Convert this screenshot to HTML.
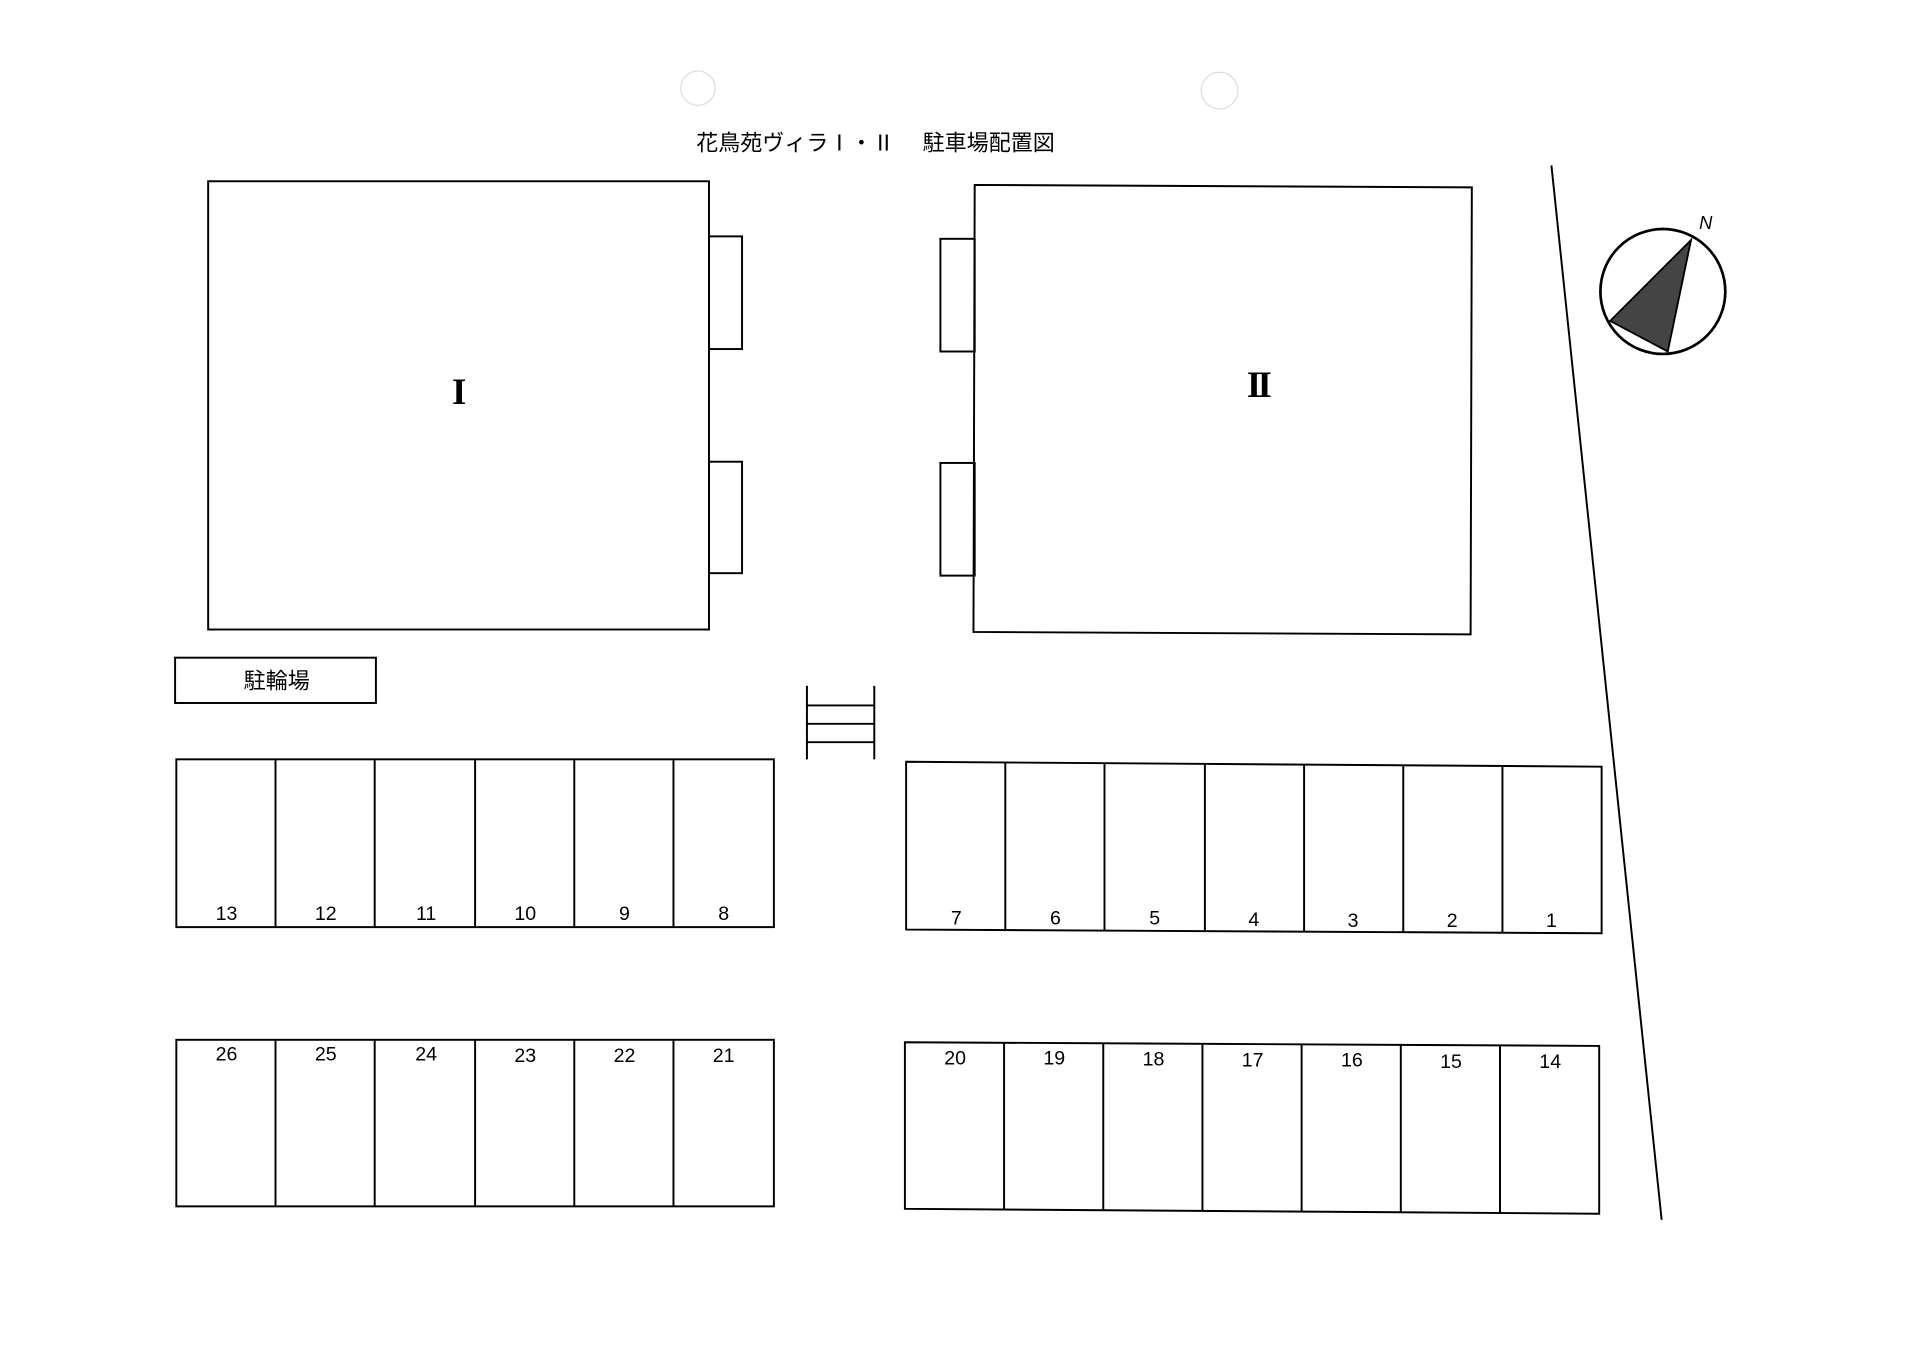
<!DOCTYPE html>
<html><head><meta charset="utf-8"><style>html,body{margin:0;padding:0;background:#fff}svg{display:block}</style></head>
<body>
<svg width="1920" height="1357" viewBox="0 0 1568 1108" preserveAspectRatio="none" xmlns="http://www.w3.org/2000/svg" font-family="'Liberation Sans','Noto Sans CJK JP',sans-serif">
<g fill="none" stroke="#000" stroke-width="1.6">
<circle cx="570" cy="72" r="14" stroke="#ddd" stroke-width="1"/>
<circle cx="996" cy="74" r="15" stroke="#ddd" stroke-width="1"/>
<rect x="170" y="148" width="409" height="366"/>
<rect x="579" y="193" width="27" height="92"/>
<rect x="579" y="377" width="27" height="91"/>
<polygon points="796,151 1202,153 1201,518 795,516"/>
<rect x="768" y="195" width="28" height="92"/>
<rect x="768" y="378" width="28" height="92"/>
<line x1="1267" y1="135" x2="1357" y2="996"/>
<circle cx="1358" cy="238" r="51" stroke-width="2.2"/>
<rect x="143" y="537" width="164" height="37"/>
<line x1="659" y1="560" x2="659" y2="620"/>
<line x1="714" y1="560" x2="714" y2="620"/>
<line x1="659" y1="576" x2="714" y2="576"/>
<line x1="659" y1="591" x2="714" y2="591"/>
<line x1="659" y1="606" x2="714" y2="606"/>
<rect x="144" y="620" width="488" height="137"/>
<path d="M225,620V757M306,620V757M388,620V757M469,620V757M550,620V757"/>
<polygon points="740,622 1308,626 1308,762 740,759"/>
<path d="M821,622V759M902,623V760M984,623V760M1065,624V761M1146,625V761M1227,625V762"/>
<rect x="144" y="849" width="488" height="136"/>
<path d="M225,849V985M306,849V985M388,849V985M469,849V985M550,849V985"/>
<polygon points="739,851 1306,854 1306,991 739,987"/>
<path d="M820,851V988M901,852V988M982,852V989M1063,853V990M1144,853V990M1225,854V991"/>
</g>
<polygon points="1381,196 1315,262 1362,287" fill="#444" stroke="#000" stroke-width="1.5"/>
<text x="1393" y="187" font-size="15" font-style="italic" text-anchor="middle">N</text>
<text x="715" y="123" font-size="18" text-anchor="middle">花鳥苑ヴィラⅠ・Ⅱ　 駐車場配置図</text>
<text x="375" y="330" font-size="30" font-weight="bold" font-family="'Liberation Serif',serif" text-anchor="middle">I</text>
<text x="1027" y="324" font-size="30" font-weight="bold" font-family="'Liberation Serif',serif" text-anchor="middle" letter-spacing="-3">II</text>
<text x="226" y="562" font-size="18" text-anchor="middle">駐輪場</text>
<g font-size="16" text-anchor="middle">
<text x="185" y="751">13</text><text x="266" y="751">12</text><text x="348" y="751">11</text><text x="429" y="751">10</text><text x="510" y="751">9</text><text x="591" y="751">8</text>
<text x="781" y="755">7</text><text x="862" y="755">6</text><text x="943" y="755">5</text><text x="1024" y="756">4</text><text x="1105" y="757">3</text><text x="1186" y="757">2</text><text x="1267" y="757">1</text>
<text x="185" y="866">26</text><text x="266" y="866">25</text><text x="348" y="866">24</text><text x="429" y="867">23</text><text x="510" y="867">22</text><text x="591" y="867">21</text>
<text x="780" y="869">20</text><text x="861" y="869">19</text><text x="942" y="870">18</text><text x="1023" y="871">17</text><text x="1104" y="871">16</text><text x="1185" y="872">15</text><text x="1266" y="872">14</text>
</g>
</svg>
</body></html>
